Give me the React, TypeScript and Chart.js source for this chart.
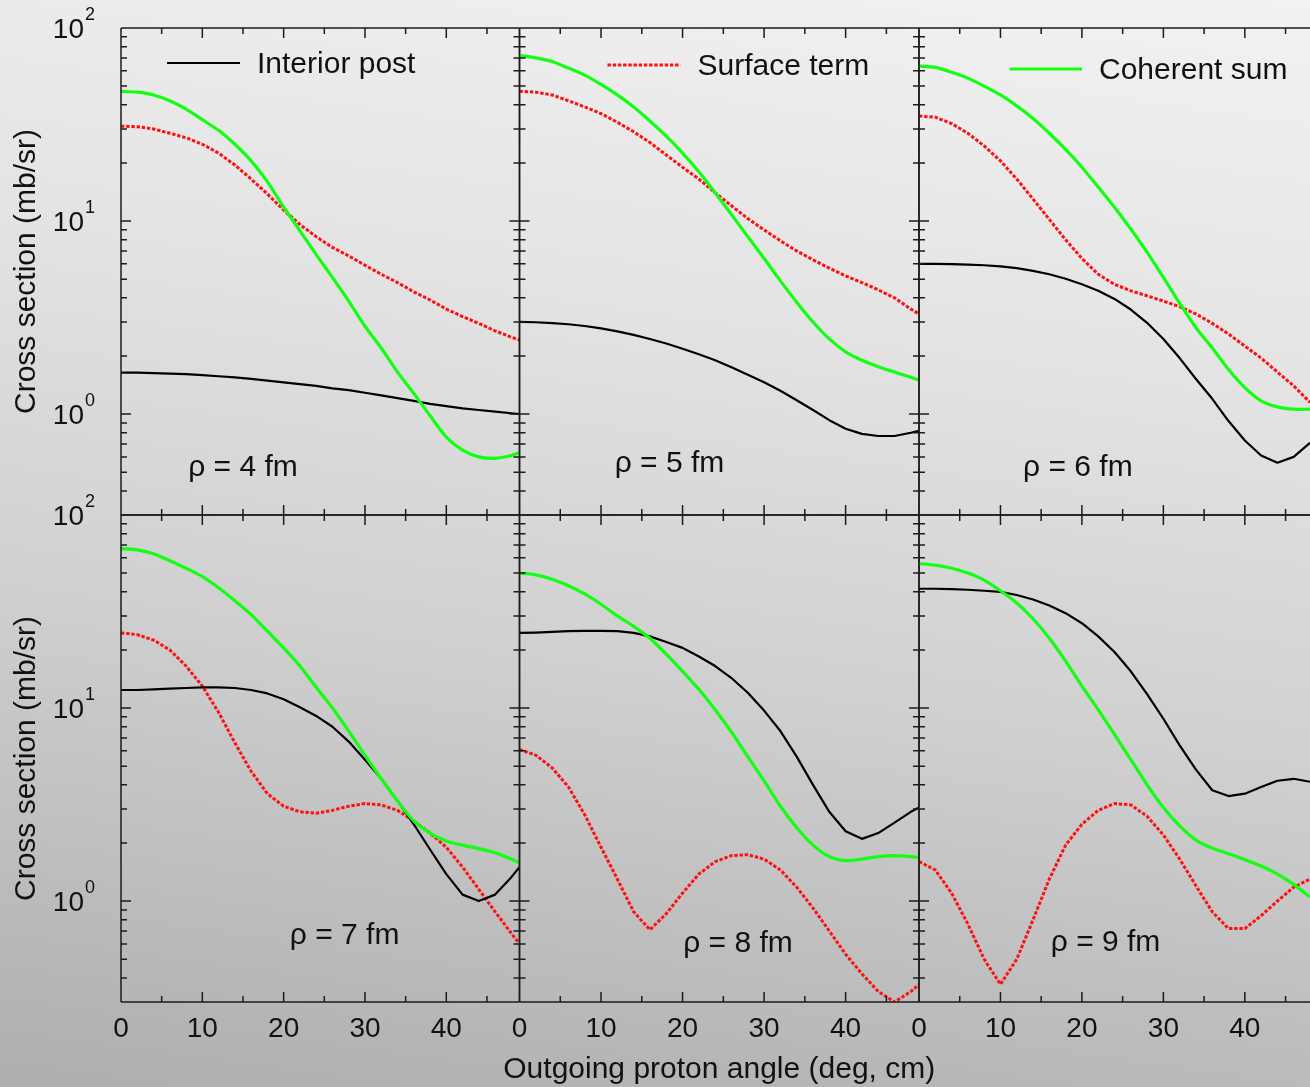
import React, { useEffect, useRef } from "react";
import { Chart, registerables } from "chart.js";

Chart.register(...registerables);

const FONT = '"Liberation Sans", Arial, Helvetica, sans-serif';
const AXIS_COLOR = "#1c1c1c";
const TEXT_COLOR = "#111111";
const GREEN = "#12ff12";
const RED = "#ff1010";
const BLACK = "#000000";

// ---------- data ----------
const SERIES_NAMES = ["Interior post", "Surface term", "Coherent sum"];
const RHO_VALUES = [4, 5, 6, 7, 8, 9];
const X_TICK_LABELS = [0, 10, 20, 30, 40];
const Y_TICK_EXPONENTS = [0, 1, 2];
const Y_TITLE = "Cross section (mb/sr)";
const X_TITLE = "Outgoing proton angle (deg, cm)";

const ANGLES = [0, 2, 4, 6, 8, 10, 12, 14, 16, 18, 20, 22, 24, 26, 28, 30, 32, 34, 36, 38, 40, 42, 44, 46, 48, 49];
const ANGLES_LAST_COL = [0, 2, 4, 6, 8, 10, 12, 14, 16, 18, 20, 22, 24, 26, 28, 30, 32, 34, 36, 38, 40, 42, 44, 46, 48];

// rho = 4 fm
const RHO4_INTERIOR = [1.64, 1.64, 1.63, 1.62, 1.61, 1.59, 1.57, 1.55, 1.52, 1.49, 1.46, 1.43, 1.40, 1.36, 1.33, 1.29, 1.25, 1.21, 1.17, 1.13, 1.10, 1.07, 1.05, 1.03, 1.01, 1.00];
const RHO4_SURFACE = [31, 30.8, 30, 28.5, 27, 25, 22.5, 19.5, 16.5, 13.8, 11.4, 9.6, 8.3, 7.3, 6.6, 5.9, 5.3, 4.8, 4.3, 3.9, 3.5, 3.2, 2.95, 2.7, 2.5, 2.42];
const RHO4_COHERENT = [47, 46.5, 45, 42, 38, 33.5, 29.5, 25, 20.5, 16.0, 11.8, 8.9, 6.7, 5.1, 3.85, 2.85, 2.2, 1.65, 1.28, 0.98, 0.76, 0.65, 0.6, 0.59, 0.61, 0.63];

// rho = 5 fm
const RHO5_INTERIOR = [3.0, 2.99, 2.96, 2.92, 2.86, 2.78, 2.68, 2.57, 2.45, 2.32, 2.18, 2.04, 1.9, 1.75, 1.6, 1.46, 1.32, 1.18, 1.05, 0.93, 0.84, 0.79, 0.77, 0.77, 0.8, 0.82];
const RHO5_SURFACE = [47, 46.5, 45, 42, 39, 36, 32.5, 29, 25.5, 22, 19, 16.5, 14, 12, 10.3, 9.0, 7.9, 7.0, 6.3, 5.7, 5.2, 4.8, 4.4, 4.0, 3.5, 3.3];
const RHO5_COHERENT = [72, 70, 67, 62, 57, 51, 45, 39, 33, 27.5, 22.5, 18, 14, 10.8, 8.3, 6.4, 4.9, 3.8, 3.0, 2.45, 2.1, 1.9, 1.76, 1.65, 1.55, 1.5];

// rho = 6 fm
const RHO6_INTERIOR = [6.0, 6.0, 5.98, 5.95, 5.9, 5.82, 5.7, 5.52, 5.3, 5.02, 4.7, 4.35, 3.95, 3.48, 2.97, 2.45, 1.95, 1.52, 1.2, 0.92, 0.73, 0.61, 0.56, 0.6, 0.71];
const RHO6_SURFACE = [35, 34.5, 32, 28.5, 24.5, 20.5, 16.5, 13, 10.2, 8.0, 6.4, 5.3, 4.7, 4.35, 4.1, 3.85, 3.6, 3.3, 2.95, 2.6, 2.25, 1.95, 1.65, 1.4, 1.15];
const RHO6_COHERENT = [63.5, 62.5, 59, 55, 50, 45, 39.5, 34, 28.5, 23.5, 19.0, 15.0, 11.8, 9.1, 6.9, 5.1, 3.75, 2.8, 2.2, 1.7, 1.37, 1.17, 1.09, 1.06, 1.06];

// rho = 7 fm
const RHO7_INTERIOR = [12.4, 12.4, 12.5, 12.6, 12.7, 12.8, 12.8, 12.7, 12.4, 11.9, 11.1, 10.1, 9.1, 8.0, 6.7, 5.4, 4.3, 3.3, 2.5, 1.85, 1.38, 1.08, 1.0, 1.08, 1.33, 1.5];
const RHO7_SURFACE = [24.5, 24, 22.5, 20, 16.5, 13, 9.5, 6.6, 4.7, 3.6, 3.1, 2.9, 2.85, 2.95, 3.1, 3.2, 3.15, 2.95, 2.6, 2.25, 1.9, 1.5, 1.15, 0.88, 0.68, 0.6];
const RHO7_COHERENT = [67, 66, 63, 58, 53, 48, 42, 36, 30.5, 25, 20.5, 16.5, 12.8, 10, 7.6, 5.7, 4.3, 3.3, 2.6, 2.25, 2.05, 1.95, 1.87, 1.78, 1.65, 1.58];

// rho = 8 fm
const RHO8_INTERIOR = [24.5, 24.6, 24.8, 25, 25.1, 25.1, 25, 24.5, 23.5, 22, 20.5, 18.5, 16.5, 14.3, 12, 9.7, 7.6, 5.6, 4.0, 2.9, 2.3, 2.1, 2.25, 2.55, 2.9, 3.05];
const RHO8_SURFACE = [6.1, 5.7, 4.9, 3.9, 2.8, 1.9, 1.3, 0.88, 0.71, 0.86, 1.1, 1.38, 1.6, 1.72, 1.74, 1.65, 1.45, 1.18, 0.92, 0.7, 0.53, 0.42, 0.34, 0.3, 0.34, 0.37];
const RHO8_COHERENT = [50, 49, 46.5, 43, 39, 34.5, 30, 26.5, 23, 19, 15.5, 12.5, 9.8, 7.5, 5.6, 4.2, 3.1, 2.4, 1.95, 1.7, 1.62, 1.65, 1.7, 1.72, 1.7, 1.68];

// rho = 9 fm
const RHO9_INTERIOR = [41.5, 41.5, 41.3, 41, 40.5, 40, 38.5, 36.5, 34, 31, 27.5, 23.5, 19.5, 15.5, 11.8, 8.8, 6.4, 4.8, 3.75, 3.5, 3.6, 3.9, 4.2, 4.3, 4.15];
const RHO9_SURFACE = [1.6, 1.45, 1.1, 0.76, 0.5, 0.37, 0.5, 0.8, 1.3, 1.95, 2.5, 2.95, 3.2, 3.15, 2.75, 2.2, 1.65, 1.2, 0.88, 0.72, 0.72, 0.84, 1.0, 1.18, 1.3];
const RHO9_COHERENT = [56, 55, 53, 50, 46, 40.5, 35, 29, 23, 17.5, 13, 9.8, 7.3, 5.4, 4.0, 3.05, 2.45, 2.07, 1.88, 1.76, 1.64, 1.52, 1.38, 1.22, 1.05];

// ---------- layout (pixels) ----------
const W = 1310;
const H = 1087;
const COL_LEFT = [121, 519.5, 919];
const COL_RIGHT = [519.5, 919, 1310];
const COL_XMAX = [49, 49, 48];
const ROW_TOP = [28, 515];
const ROW_BOTTOM = [515, 1002];
const Y_MIN = 0.3;
const Y_MAX = 100;

type Panel = {
  row: number;
  col: number;
  rho: number;
  angles: number[];
  interior: number[];
  surface: number[];
  coherent: number[];
  labelAt: [number, number]; // in data units
  legend: number | null;
  legendOffset: [number, number, number, number];
};

const PANELS: Panel[] = [
  { row: 0, col: 0, rho: RHO_VALUES[0], angles: ANGLES, interior: RHO4_INTERIOR, surface: RHO4_SURFACE, coherent: RHO4_COHERENT, labelAt: [15, 0.53], legend: 0, legendOffset: [46, 119, 136, 35] },
  { row: 0, col: 1, rho: RHO_VALUES[1], angles: ANGLES, interior: RHO5_INTERIOR, surface: RHO5_SURFACE, coherent: RHO5_COHERENT, labelAt: [18.4, 0.55], legend: 1, legendOffset: [88, 161, 178, 37] },
  { row: 0, col: 2, rho: RHO_VALUES[2], angles: ANGLES_LAST_COL, interior: RHO6_INTERIOR, surface: RHO6_SURFACE, coherent: RHO6_COHERENT, labelAt: [19.5, 0.53], legend: 2, legendOffset: [91, 163, 180, 41] },
  { row: 1, col: 0, rho: RHO_VALUES[3], angles: ANGLES, interior: RHO7_INTERIOR, surface: RHO7_SURFACE, coherent: RHO7_COHERENT, labelAt: [27.5, 0.66], legend: null, legendOffset: [0, 0, 0, 0] },
  { row: 1, col: 1, rho: RHO_VALUES[4], angles: ANGLES, interior: RHO8_INTERIOR, surface: RHO8_SURFACE, coherent: RHO8_COHERENT, labelAt: [26.8, 0.6], legend: null, legendOffset: [0, 0, 0, 0] },
  { row: 1, col: 2, rho: RHO_VALUES[5], angles: ANGLES_LAST_COL, interior: RHO9_INTERIOR, surface: RHO9_SURFACE, coherent: RHO9_COHERENT, labelAt: [22.9, 0.61], legend: null, legendOffset: [0, 0, 0, 0] },
];

const SERIES_STYLE = [
  { color: BLACK, width: 2.2, dash: [] as number[], tension: 0 },
  { color: RED, width: 3, dash: [3.4, 1.8], tension: 0 },
  { color: GREEN, width: 3.2, dash: [] as number[], tension: 0.25 },
];

function makeDecor(p: Panel) {
  return {
    id: "panelDecor",
    afterDatasetsDraw(chart: any) {
      const ctx: CanvasRenderingContext2D = chart.ctx;
      const { left, right, top, bottom } = chart.chartArea;
      const xs = chart.scales.x;
      const ys = chart.scales.y;
      const drawRight = p.col < 2;
      ctx.save();
      ctx.strokeStyle = AXIS_COLOR;
      ctx.lineWidth = 1.5;
      ctx.lineCap = "butt";
      ctx.setLineDash([]);
      ctx.beginPath();
      ctx.moveTo(left, top);
      ctx.lineTo(left, bottom);
      ctx.moveTo(left, top);
      ctx.lineTo(right, top);
      ctx.moveTo(left, bottom);
      ctx.lineTo(right, bottom);
      if (drawRight) {
        ctx.moveTo(right, top);
        ctx.lineTo(right, bottom);
      }
      for (let v = 5; v < xs.max; v += 5) {
        const px = xs.getPixelForValue(v);
        const len = v % 10 === 0 ? 10 : 6;
        ctx.moveTo(px, bottom);
        ctx.lineTo(px, bottom - len);
        ctx.moveTo(px, top);
        ctx.lineTo(px, top + len);
      }
      for (let e = -1; e <= 2; e++) {
        for (let m = 1; m <= 9; m++) {
          const v = m * Math.pow(10, e);
          if (v < Y_MIN || v > Y_MAX) continue;
          const py = ys.getPixelForValue(v);
          const len = m === 1 ? 10 : 6;
          ctx.moveTo(left, py);
          ctx.lineTo(left + len, py);
          if (drawRight) {
            ctx.moveTo(right, py);
            ctx.lineTo(right - len, py);
          }
        }
      }
      ctx.stroke();

      ctx.fillStyle = TEXT_COLOR;
      if (p.row === 1) {
        ctx.font = `28px ${FONT}`;
        ctx.textAlign = "center";
        ctx.textBaseline = "alphabetic";
        for (const v of X_TICK_LABELS) {
          ctx.fillText(String(v), xs.getPixelForValue(v), bottom + 35);
        }
      }
      if (p.col === 0) {
        for (const e of Y_TICK_EXPONENTS) {
          const py = ys.getPixelForValue(Math.pow(10, e));
          ctx.font = `28px ${FONT}`;
          ctx.textAlign = "right";
          ctx.textBaseline = "alphabetic";
          ctx.fillText("10", left - 37, py + 10);
          ctx.font = `18px ${FONT}`;
          ctx.textAlign = "left";
          ctx.fillText(String(e), left - 36, py - 8);
        }
        ctx.save();
        ctx.translate(left - 94, (top + bottom) / 2);
        ctx.rotate(-Math.PI / 2);
        ctx.font = `30px ${FONT}`;
        ctx.textAlign = "center";
        ctx.textBaseline = "middle";
        ctx.fillText(Y_TITLE, 0, 0);
        ctx.restore();
      }
      if (p.row === 1 && p.col === 1) {
        ctx.font = `30px ${FONT}`;
        ctx.textAlign = "center";
        ctx.textBaseline = "alphabetic";
        ctx.fillText(X_TITLE, (left + right) / 2, bottom + 76);
      }
      ctx.font = `30px ${FONT}`;
      ctx.textAlign = "center";
      ctx.textBaseline = "middle";
      ctx.fillText(`ρ = ${p.rho} fm`, xs.getPixelForValue(p.labelAt[0]), ys.getPixelForValue(p.labelAt[1]));
      if (p.legend !== null) {
        const st = SERIES_STYLE[p.legend];
        const [x0, x1, tx, ty] = p.legendOffset;
        ctx.strokeStyle = st.color;
        ctx.lineWidth = st.width;
        ctx.setLineDash(st.dash);
        ctx.beginPath();
        ctx.moveTo(left + x0, top + ty);
        ctx.lineTo(left + x1, top + ty);
        ctx.stroke();
        ctx.setLineDash([]);
        ctx.font = `30px ${FONT}`;
        ctx.textAlign = "left";
        ctx.textBaseline = "middle";
        ctx.fillText(SERIES_NAMES[p.legend], left + tx, top + ty + 2);
      }
      ctx.restore();
    },
  };
}

function PanelChart({ p }: { p: Panel }) {
  const ref = useRef<HTMLCanvasElement | null>(null);
  useEffect(() => {
    if (!ref.current) return;
    const pts = (vals: number[]) => vals.map((y, i) => ({ x: p.angles[i], y }));
    const ds = (idx: number, vals: number[]) => ({
      label: SERIES_NAMES[idx],
      data: pts(vals),
      borderColor: SERIES_STYLE[idx].color,
      borderWidth: SERIES_STYLE[idx].width,
      borderDash: SERIES_STYLE[idx].dash,
      pointRadius: 0,
      tension: SERIES_STYLE[idx].tension,
      fill: false,
      borderCapStyle: "butt" as const,
      borderJoinStyle: "round" as const,
    });
    const chart = new Chart(ref.current, {
      type: "line",
      data: {
        datasets: [ds(2, p.coherent), ds(0, p.interior), ds(1, p.surface)],
      },
      options: {
        animation: false,
        responsive: false,
        devicePixelRatio: 1,
        events: [],
        layout: {
          padding: {
            left: COL_LEFT[p.col],
            right: W - COL_RIGHT[p.col],
            top: ROW_TOP[p.row],
            bottom: H - ROW_BOTTOM[p.row],
          },
        },
        plugins: { legend: { display: false }, tooltip: { enabled: false } },
        scales: {
          x: { type: "linear", min: 0, max: COL_XMAX[p.col], display: false },
          y: { type: "logarithmic", min: Y_MIN, max: Y_MAX, display: false },
        },
      },
      plugins: [makeDecor(p)],
    } as any);
    return () => chart.destroy();
  }, [p]);
  return (
    <canvas
      ref={ref}
      width={W}
      height={H}
      style={{ position: "absolute", left: 0, top: 0, width: W, height: H }}
    />
  );
}

export default function App() {
  return (
    <div
      style={{
        position: "fixed",
        left: 0,
        top: 0,
        width: W,
        height: H,
        overflow: "hidden",
        background: "linear-gradient(188deg, #f2f2f2 0%, #e4e4e4 30%, #d0d0d0 60%, #aeaeae 100%)",
      }}
    >
      {PANELS.map((p, i) => (
        <PanelChart key={i} p={p} />
      ))}
    </div>
  );
}
